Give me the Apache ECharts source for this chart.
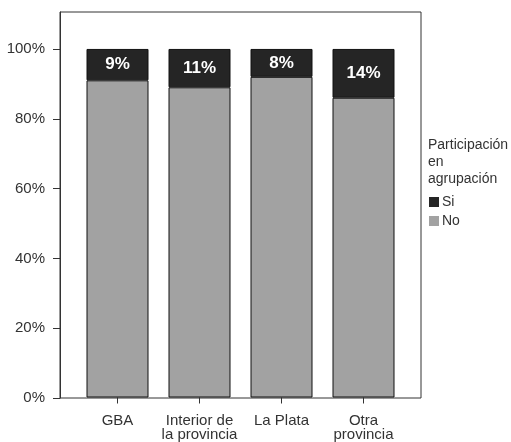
<!DOCTYPE html>
<html>
<head>
<meta charset="utf-8">
<script src="https://cdn.jsdelivr.net/npm/echarts@6/dist/echarts.min.js"></script>
<style>html,body{margin:0;padding:0;background:#fff}#c{width:511px;height:442px}</style>
</head>
<body>
<div id="c"></div>
<script>
var categories = ['GBA', 'Interior de\nla provincia', 'La Plata', 'Otra\nprovincia'];
var siValues = [9, 11, 8, 14];
var noValues = [91, 89, 92, 86];
var yTicks = [0, 20, 40, 60, 80, 100];
var legendTitle = 'Participación\nen\nagrupación';

var FONT = 'Liberation Sans, Arial, sans-serif';
var YMAX = 110.6;
var chart = echarts.init(document.getElementById('c'));
chart.setOption({
  animation: false,
  backgroundColor: '#fff',
  textStyle: { fontFamily: FONT },
  title: {
    text: legendTitle, left: 428, top: 137, padding: 0,
    textStyle: { fontFamily: FONT, fontSize: 14, fontWeight: 'normal', color: '#333', lineHeight: 17 }
  },
  legend: {
    data: ['Si', 'No'], orient: 'vertical', left: 429, top: 195, padding: 0,
    itemWidth: 10, itemHeight: 10, itemGap: 5, icon: 'rect',
    itemStyle: { borderWidth: 0 },
    textStyle: { fontFamily: FONT, fontSize: 14, color: '#333', padding: [0, 0, 0, -2] }
  },
  grid: [
    { left: 60, top: 12, width: 361, height: 386, show: true, borderColor: '#333', borderWidth: 1 },
    { left: 76.5, top: 12, width: 328, height: 386 }
  ],
  xAxis: [
    { gridIndex: 0, type: 'category', show: false, data: [] },
    {
      gridIndex: 1, type: 'category', data: categories, boundaryGap: true,
      axisLine: { show: false },
      axisTick: { show: true, alignWithLabel: true, length: 6, lineStyle: { color: '#333' } },
      axisLabel: { fontFamily: FONT, fontSize: 15, lineHeight: 14, color: '#333', margin: 16, interval: 0 }
    }
  ],
  yAxis: [
    {
      gridIndex: 0, type: 'value', min: 0, max: YMAX,
      splitLine: { show: false },
      axisLine: { show: true, lineStyle: { color: '#333' } },
      axisTick: { show: true, length: 7, customValues: yTicks, lineStyle: { color: '#333' } },
      axisLabel: { customValues: yTicks, formatter: '{value}%', fontFamily: FONT, fontSize: 15, color: '#333', margin: 15 }
    },
    { gridIndex: 1, type: 'value', min: 0, max: YMAX, show: false, splitLine: { show: false } }
  ],
  series: [
    {
      name: 'No', type: 'bar', stack: 'a', xAxisIndex: 1, yAxisIndex: 1, data: noValues, barWidth: 62,
      itemStyle: { color: '#a2a2a2', borderColor: '#111', borderWidth: 1 }
    },
    {
      name: 'Si', type: 'bar', stack: 'a', xAxisIndex: 1, yAxisIndex: 1, data: siValues, barWidth: 62,
      itemStyle: { color: '#252525', borderColor: '#111', borderWidth: 1 },
      label: { show: true, position: 'inside', formatter: '{c}%', color: '#fff', fontWeight: 'bold', fontSize: 17, fontFamily: FONT }
    }
  ]
});
</script>
</body>
</html>
